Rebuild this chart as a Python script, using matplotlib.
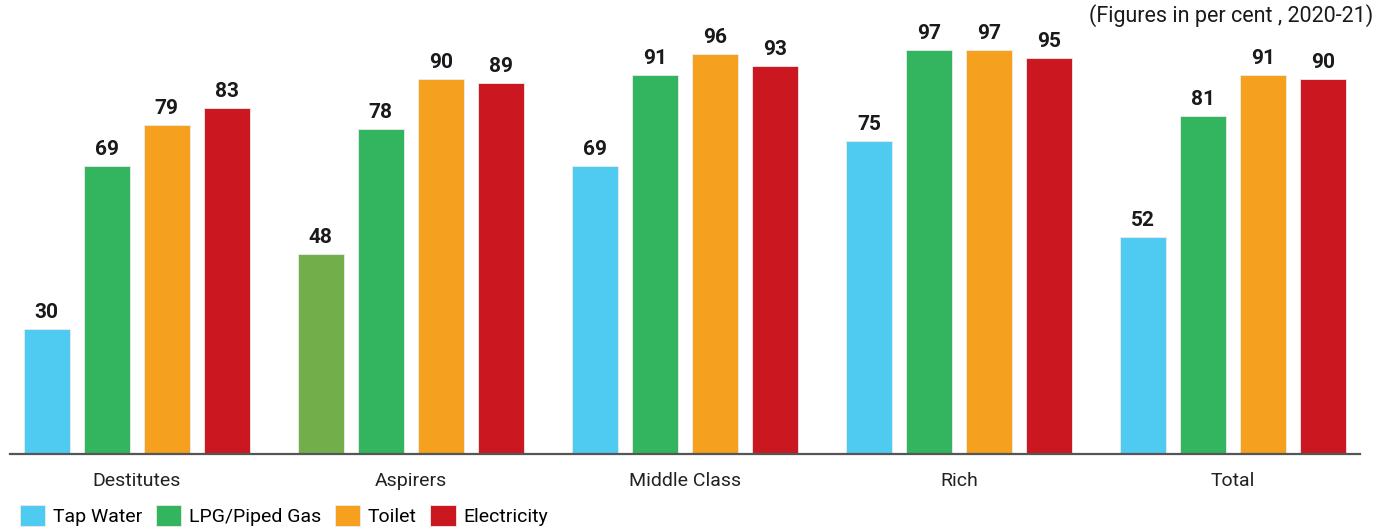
import matplotlib
matplotlib.use("Agg")
import matplotlib.pyplot as plt
from matplotlib.patches import Patch
import numpy as np

categories = ["Destitutes", "Aspirers", "Middle Class", "Rich", "Total"]
series_names = ["Tap Water", "LPG/Piped Gas", "Toilet", "Electricity"]
tap_water = [30, 48, 69, 75, 52]
lpg = [69, 78, 91, 97, 81]
toilet = [79, 90, 96, 97, 91]
electricity = [83, 89, 93, 95, 90]
values = [tap_water, lpg, toilet, electricity]
colors = ["#4FCBF2", "#33B45E", "#F5A01E", "#CB171F"]
# the reference draws the Aspirers tap-water bar in olive green
special_color = {(0, 1): "#72AE4A"}

plt.rcParams['font.family'] = ['Roboto', 'DejaVu Sans']

fig = plt.figure(figsize=(13.86, 5.31), dpi=100)
ax = fig.add_axes([0.0072, 0.145, 0.974, 0.785])

x = np.arange(len(categories))
offset = 60 / 274
width = 46 / 274
for i, (vals, col) in enumerate(zip(values, colors)):
    pos = x + (i - 1.5) * offset
    cols = [special_color.get((i, j), col) for j in range(len(categories))]
    bars = ax.bar(pos, vals, width=width, color=cols, edgecolor="#ececec", linewidth=0.6)
    for b, v in zip(bars, vals):
        ax.annotate(f"{v}", (b.get_x() + b.get_width() / 2, v), xytext=(0, 5),
                    textcoords="offset points", ha="center", va="bottom",
                    fontsize=15, fontweight="bold", color="#1a1a1a", annotation_clip=False)

ax.set_xlim(-0.462, 4.463)
ax.set_ylim(0, 100)
ax.set_xticks(x)
ax.set_xticklabels(categories, fontsize=14, color="#222222")
ax.tick_params(axis="x", length=0, pad=13)
ax.set_yticks([])
for s in ["top", "right", "left"]:
    ax.spines[s].set_visible(False)
ax.spines["bottom"].set_color("#555555")
ax.spines["bottom"].set_linewidth(1.6)

handles = [Patch(facecolor=c, edgecolor="#ececec", linewidth=0.6) for c in colors]
fig.legend(handles, series_names, loc="lower left", bbox_to_anchor=(0.006, -0.012), ncol=4,
           frameon=False, fontsize=14, handlelength=1.3, handleheight=1.3,
           handletextpad=0.4, columnspacing=0.7, borderaxespad=0.2)

fig.text(0.9905, 0.970, "(Figures in per cent , 2020-21)", ha="right", va="center",
         fontsize=15.5, color="#1a1a1a")

fig.savefig("out.png", dpi=100)
